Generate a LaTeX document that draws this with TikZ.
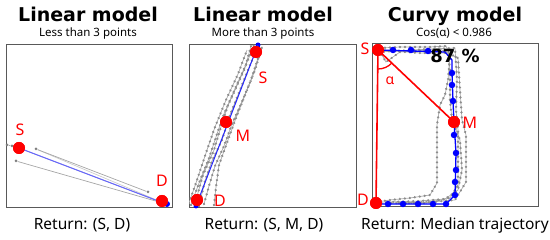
\documentclass[tikz,border=0pt]{standalone}
\usepackage{fontspec}
\setmainfont{Noto Sans}
\newfontfamily\boldface{DejaVu Sans Bold}
\usetikzlibrary{decorations.markings}
\begin{document}
\begin{tikzpicture}[x=1pt,y=-1pt,
  frame/.style={draw=black!65, line width=0.9pt},
  ttl/.style={anchor=base, font=\boldface\fontsize{19}{19}\selectfont},
  sub/.style={anchor=base, font=\fontsize{11.5}{12}\selectfont},
  ret/.style={anchor=base, font=\fontsize{15.5}{16}\selectfont},
  lab/.style={text=red, font=\fontsize{16}{16}\selectfont, inner sep=0pt},
  rdot/.style={circle, fill=red, inner sep=0pt, minimum size=12pt},
  bdot/.style={circle, fill=blue, inner sep=0pt, minimum size=6.5pt},
  gdot/.style={circle, fill=gray, inner sep=0pt, minimum size=3pt},
  gline/.style={draw=gray!70, line width=0.7pt},
  traj/.style={draw=gray!65, line width=0.7pt, postaction={decorate},
    decoration={markings, mark=between positions 0 and 1 step 5pt with {\fill[gray!90] (0,0) circle (1.3pt);}}},
  redline/.style={draw=red, line width=1.6pt},
]
\useasboundingbox (0,0) rectangle (550,240);

% ---------- Panel 1 ----------
\node[ttl] (t1) at (88,21.7) {Linear model};
\node[sub] (s1) at (88,36.5) {Less than 3 points};
\draw[frame] (6,44) rectangle (172,207);
\node[gdot] (p1a) at (7,145) {};
\node[gdot] (p1b) at (12,146) {};
\node[gdot] (p1c) at (36,149) {};
\node[gdot] (p1d) at (148,192) {};
\node[gdot] (p1e) at (16,161) {};
\coordinate (p1end) at (166,204);
\fill[blue] (167,204) circle (3pt);
\draw[gline, draw=gray!40] (p1c) -- (p1end);
\draw[gline] (p1c) -- (p1d);
\draw[gline] (p1e) -- (p1end);
\draw[gline] (p1a) -- (p1b) -- (19,148) -- (p1end);
\node[rdot] (S1) at (19,148) {};
\node[rdot] (D1) at (162,201) {};
\draw[draw=blue!60, line width=1pt] (S1.center) -- (p1end);
\node[rdot] at (19,148) {};
\node[rdot] at (162,201) {};
\node[lab] (lS1) at (20,130) {S};
\node[lab] (lD1) at (162,181) {D};
\node[ret] (r1) at (82,230) {Return: (S, D)};

% ---------- Panel 2 ----------
\node[ttl] (t2) at (263,21.7) {Linear model};
\node[sub] (s2) at (263,36.5) {More than 3 points};
\draw[frame] (189,44) rectangle (356,207);
\begin{scope}
\clip (189,44) rectangle (356,207);
\draw[traj] (191,205) -- (199,183) -- (209,158) -- (217,134) -- (224,114) -- (235,90) -- (245,68) -- (251,46);
\draw[traj] (199,206) -- (205,181) -- (212,161) -- (222,140) -- (230,115) -- (240,90) -- (250,65) -- (259,45);
\draw[traj] (214,205) -- (216,187) -- (219,165) -- (228,140) -- (236,118) -- (245,95) -- (255,70) -- (262,47);
\draw[traj] (196,200) -- (203,175) -- (214,150) -- (220,130) -- (228,105) -- (238,82) -- (248,60) -- (254,45);
\draw[traj] (189,203) -- (197,180) -- (207,150) -- (215,127) -- (226,100) -- (238,74) -- (247,50);
\draw[traj] (204,204) -- (209,186) -- (215,166) -- (224,146) -- (232,124) -- (241,104) -- (251,80) -- (260,52);
\end{scope}
\fill[blue] (258,45) circle (2.5pt);
\fill[blue] (196,206) circle (2.5pt);
\node[rdot] (S2) at (256,52) {};
\node[rdot] (M2) at (226,122) {};
\node[rdot] (D2) at (197,200) {};
\draw[draw=blue!85, line width=1pt] (196,206) -- (258,45);
\node[rdot] at (256,52) {};
\node[rdot] at (226,122) {};
\node[rdot] at (197,200) {};
\node[lab] (lS2) at (263,78) {S};
\node[lab] (lM2) at (243,136) {M};
\node[lab] (lD2) at (220,201) {D};
\node[ret] (r2) at (264,230) {Return: (S, M, D)};

% ---------- Panel 3 ----------
\node[ttl] (t3) at (455,21.7) {Curvy model};
\node[sub] (s3) at (454,36.5) {Cos(α) < 0.986};
\draw[frame] (372,43) rectangle (538,206);
\draw[traj] (380,48) -- (400,47) -- (430,47) -- (446,46) -- (450,55) -- (448,80) -- (445,95) -- (440,105) -- (437,125) -- (437,145) -- (437,165) -- (437,183) -- (430,195) -- (410,198) -- (390,200) -- (377,202);
\draw[traj] (382,55) -- (386,62) -- (400,52) -- (440,49) -- (458,58) -- (460,90) -- (462,120) -- (466,135) -- (466,160) -- (466,182) -- (455,200) -- (430,202) -- (400,203) -- (378,203);
\draw[traj] (380,50) -- (420,53) -- (448,53) -- (450,70) -- (450,100) -- (452,120) -- (460,140) -- (462,170) -- (458,190) -- (445,199) -- (420,201) -- (390,202);
\draw[traj] (379,52) -- (430,49) -- (455,48) -- (457,80) -- (456,110) -- (458,130) -- (458,160) -- (458,185) -- (450,198) -- (425,203) -- (395,203);
\draw[draw=blue, line width=1.3pt] (378,50) -- (445,52) -- (452,60) -- (452,73) -- (453,101) -- (454,122) -- (456,153) -- (455,195) -- (446,204) -- (376,204);
\foreach \p [count=\i] in {(393,50),(411,50),(428,51),(452,73),(452,85),(453,101),(454,135),(456,153),(456,170),(455,182),(455,195),(446,204),(433,204),(418,204),(403,204),(388,204)}
  \node[bdot] (b\i) at \p {};
\node[rdot] (S3) at (378,50) {};
\node[rdot] (M3) at (454,122) {};
\node[rdot] (D3) at (376,203) {};
\draw[redline] (S3.center) -- (M3.center);
\draw[redline] (S3.center) -- (D3.center);
\draw[draw=red, line width=1.3pt] ([shift={(90:19)}]S3.center) arc[start angle=90, end angle=43.5, radius=19];
\node[rdot] at (378,50) {};
\node[rdot] at (454,122) {};
\node[rdot] at (376,203) {};
\node[lab, font=\fontsize{14}{14}\selectfont] (alpha) at (390,81) {α};
\node[anchor=base, font=\boldface\fontsize{18}{19}\selectfont] (pct) at (455,62.5) {87 \%};
\node[lab] (lS3) at (365,49) {S};
\node[lab] (lM3) at (470,123) {M};
\node[lab] (lD3) at (363,200) {D};
\node[ret] (r3) at (455,230) {Return: Median trajectory};
\end{tikzpicture}
\end{document}
